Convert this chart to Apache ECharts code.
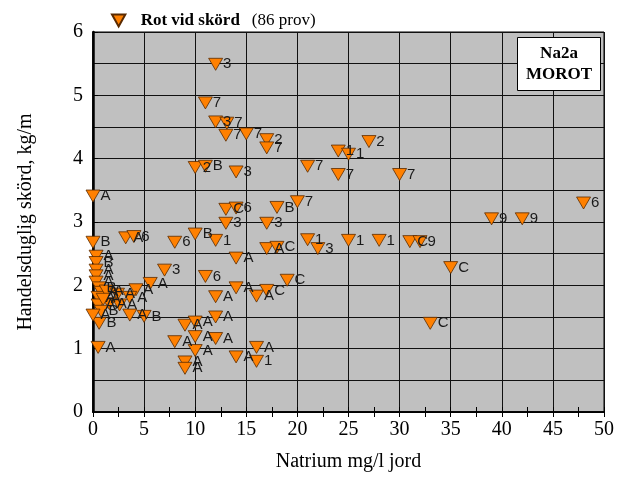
<!DOCTYPE html>
<html><head><meta charset="utf-8">
<script src="https://cdn.jsdelivr.net/npm/echarts@6/dist/echarts.min.js"></script>
<style>html,body{margin:0;padding:0;background:#fff}#c{width:617px;height:477px}</style>
</head><body><div id="c"></div>
<script>
const xTicks = [0,5,10,15,20,25,30,35,40,45,50];
const yTicks = [0,1,2,3,4,5,6];
const xs = [12.0,11.0,12.0,13.1,13.0,15.0,17.0,17.0,10.0,11.0,14.0,21.0,13.0,14.0,18.0,20.0,13.0,17.0,10.0,12.0,
  8.0,17.0,18.0,21.0,22.0,14.0,11.0,14.0,12.0,16.0,17.0,19.0,12.0,24.0,25.0,27.0,24.0,30.0,25.0,28.0,
  31.0,32.0,35.0,33.0,39.0,42.0,48.0,7.0,4.2,5.6,3.2,4.0,0.0,0.0,8.0,9.0,10.0,10.0,10.0,9.0,
  9.0,12.0,16.0,14.0,16.0,0.3,0.3,0.3,0.3,0.3,0.6,0.8,0.5,1.3,2.4,3.6,1.6,2.6,0.5,0.8,
  3.6,5.0,0.6,0.0,0.5,1.0];
const ys = [5.49,4.88,4.58,4.56,4.37,4.39,4.30,4.17,3.86,3.88,3.79,3.88,3.20,3.22,3.23,3.32,2.98,2.98,2.81,2.71,
  2.68,2.58,2.60,2.72,2.58,2.43,2.14,1.96,1.82,1.83,1.92,2.08,1.50,4.12,4.07,4.27,3.75,3.75,2.71,2.71,
  2.69,2.69,2.28,1.40,3.05,3.05,3.30,2.24,1.93,2.03,2.75,2.77,3.41,2.68,1.11,1.37,1.42,1.19,0.97,0.79,
  0.69,1.16,1.02,0.87,0.80,2.46,2.36,2.24,2.15,2.05,1.96,1.89,1.81,1.91,1.86,1.81,1.71,1.69,1.69,1.59,
  1.53,1.51,1.40,1.53,1.02,1.78];
const labels = ['3','7','3','7','7','7','2','7','2','B','3','7','C','6','B','7','3','3','B','1',
  '6','A','C','1','3','A','6','A','A','A','C','C','A','1','1','2','7','7','1','1',
  'C','9','C','C','9','9','6','3','A','A','A','6','A','B','A','A','A','A','A','A',
  'A','A','A','A','1','A','B','A','A','A','B','A','A','A','A','A','A','A','A','B',
  'A','B','B','A','A','A'];
const seriesName = 'Rot vid skörd';
const sampleNote = '(86 prov)';
const boxLines = ['Na2a','MOROT'];

const data = xs.map((x,i)=>({value:[x,ys[i]], label:{formatter:labels[i]}}));
const tri = 'path://M0,0 L10,0 L5,9 Z';
const serif = '"Liberation Serif","Times New Roman",serif';
const chart = echarts.init(document.getElementById('c'));
chart.setOption({
  animation:false,
  grid: {left:93, right:13, top:32, bottom:58.5, show:true, backgroundColor:'#c0c0c0', borderColor:'#000', borderWidth:1},
  legend: {
    left: 106, top: 7, itemWidth: 14, itemHeight: 12, itemGap: 6,
    data: [{name: seriesName, icon: tri}],
    formatter: () => '{b|' + seriesName + '}{n|' + sampleNote + '}',
    textStyle: {rich: {
      b: {fontFamily: serif, fontWeight:'bold', fontSize: 17, color:'#000', padding:[0,0,0,10]},
      n: {fontFamily: serif, fontSize: 17, color:'#000', padding:[0,0,0,12]}
    }}
  },
  xAxis: [{
    type:'value', min:0, max:50, interval:5,
    name:'Natrium mg/l jord', nameLocation:'middle', nameGap:40,
    nameTextStyle:{fontFamily:serif, fontSize:20, color:'#000'},
    axisLine:{show:true, lineStyle:{color:'#000', width:1.5}},
    axisTick:{show:true, inside:true, length:5, lineStyle:{color:'#000'}},
    minorTick:{show:true, splitNumber:2, length:5, lineStyle:{color:'#000'}},
    axisLabel:{fontFamily:serif, fontSize:20, color:'#000', margin:8},
    splitLine:{show:true, lineStyle:{color:'#111', width:1}}
  },{
    type:'value', position:'top', min:0, max:50, interval:5,
    axisLine:{show:true, lineStyle:{color:'#000', width:1.5}},
    axisTick:{show:true, inside:true, length:5, lineStyle:{color:'#000'}},
    minorTick:{show:true, splitNumber:2, length:5, lineStyle:{color:'#000'}},
    axisLabel:{show:false}, splitLine:{show:false}
  }],
  yAxis: [{
    type:'value', min:0, max:6, interval:1,
    name:'Handelsduglig skörd, kg/m', nameLocation:'middle', nameGap:57,
    nameTextStyle:{fontFamily:serif, fontSize:20, color:'#000'},
    axisLine:{show:true, lineStyle:{color:'#000', width:2.5}},
    axisTick:{show:true, inside:true, length:5, lineStyle:{color:'#000'}},
    axisLabel:{fontFamily:serif, fontSize:20, color:'#000', margin:10},
    splitLine:{show:true, lineStyle:{color:'#111', width:1}},
    minorTick:{show:false, splitNumber:2},
    minorSplitLine:{show:true, lineStyle:{color:'#111', width:1}}
  },{
    type:'value', position:'right', min:0, max:6, interval:1,
    axisLine:{show:true, lineStyle:{color:'#000', width:1.5}},
    axisTick:{show:false}, axisLabel:{show:false}, splitLine:{show:false}
  }],
  series: [{
    name: seriesName, type:'scatter', data: data,
    symbol: tri, symbolSize:[14,12],
    itemStyle:{color:'#ff8000', borderColor:'#5a2a00', borderWidth:0.8, opacity:1},
    label:{show:true, position:'right', distance:0, fontFamily:'"Liberation Sans",Arial,sans-serif', fontSize:15, color:'#1a1a1a'}
  }],
  graphic: [{
    type:'group', left: 517, top: 37, z: 100,
    children: [
      {type:'rect', z: 100, shape:{x:0,y:0,width:83,height:53}, style:{fill:'#fff', stroke:'#000', lineWidth:1}},
      {type:'text', z: 101, x:41.5, y:16, style:{text:boxLines[0], fontFamily:serif, fontWeight:'bold', fontSize:17, fill:'#000', align:'center', verticalAlign:'middle'}},
      {type:'text', z: 101, x:41.5, y:37, style:{text:boxLines[1], fontFamily:serif, fontWeight:'bold', fontSize:17, fill:'#000', align:'center', verticalAlign:'middle'}}
    ]
  }]
});
</script></body></html>
